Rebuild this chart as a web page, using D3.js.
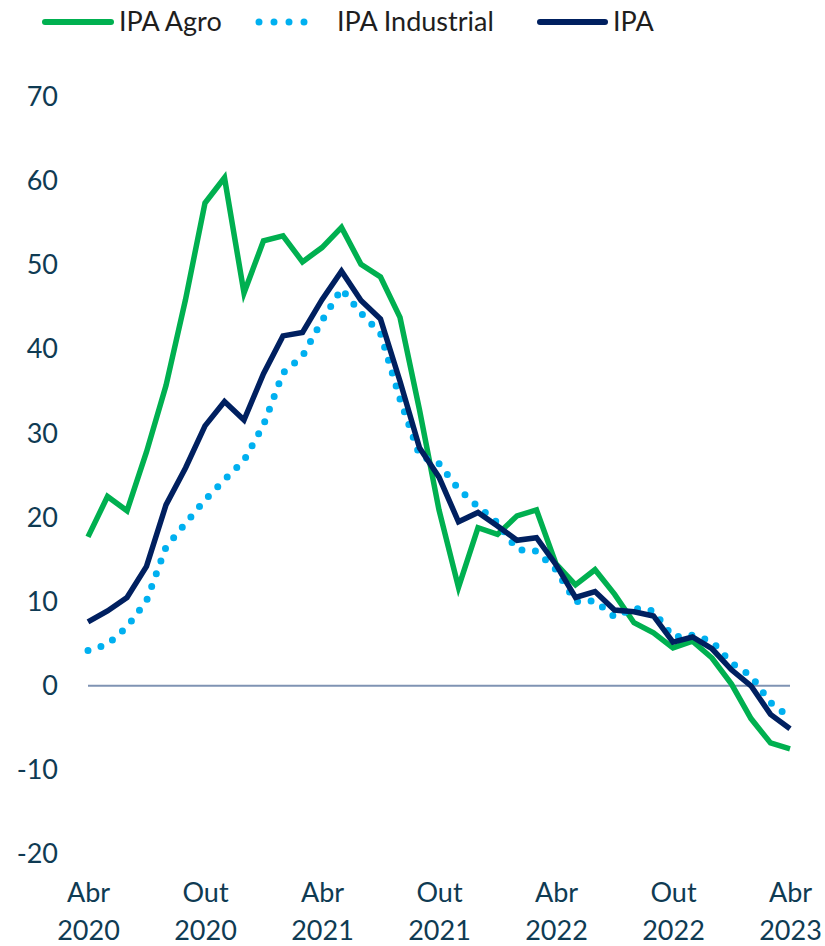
<!DOCTYPE html>
<html lang="pt">
<head>
<meta charset="UTF-8">
<title>IPA</title>
<script src="https://d3js.org/d3.v7.min.js"></script>
<style>
  body { margin: 0; background: #fff; }
  text { font-family: Lato, "Open Sans", sans-serif; }
</style>
</head>
<body>
<div id="chart"></div>
<script>
// months Abr 2020 .. Abr 2023
var months = ["2020-04","2020-05","2020-06","2020-07","2020-08","2020-09","2020-10","2020-11","2020-12",
  "2021-01","2021-02","2021-03","2021-04","2021-05","2021-06","2021-07","2021-08","2021-09","2021-10","2021-11","2021-12",
  "2022-01","2022-02","2022-03","2022-04","2022-05","2022-06","2022-07","2022-08","2022-09","2022-10","2022-11","2022-12",
  "2023-01","2023-02","2023-03","2023-04"];

var agro = [17.7, 22.5, 20.8, 27.8, 35.7, 45.9, 57.4, 60.4, 46.7, 52.9, 53.5, 50.4, 52.1, 54.5, 50.1, 48.6, 43.8, 32.8, 20.9,
  11.7, 18.8, 18.0, 20.2, 20.9, 14.5, 12.0, 13.8, 10.9, 7.5, 6.3, 4.5, 5.3, 3.3, 0.2, -3.9, -6.8, -7.5];
var industrial = [4.2, 4.9, 7.0, 10.1, 16.5, 19.3, 22.1, 24.5, 26.8, 31.0, 37.2, 39.2, 43.4, 47.2, 44.3, 41.9, 34.1, 27.4, 26.4,
  23.4, 21.3, 19.4, 16.2, 16.0, 13.8, 10.0, 10.1, 8.2, 9.2, 8.9, 5.8, 6.0, 5.3, 2.7, 1.2, -2.0, -3.8];
var ipa = [7.6, 8.9, 10.5, 14.2, 21.5, 25.9, 30.9, 33.8, 31.6, 37.1, 41.6, 42.0, 45.9, 49.3, 45.8, 43.6, 36.2, 28.3, 24.8,
  19.5, 20.6, 19.0, 17.3, 17.6, 14.4, 10.5, 11.2, 9.0, 8.8, 8.3, 5.2, 5.8, 4.4, 1.9, 0.0, -3.4, -5.1];

var xTicks = ["2020-04","2020-10","2021-04","2021-10","2022-04","2022-10","2023-04"];
var xTickLabels = [["Abr","2020"],["Out","2020"],["Abr","2021"],["Out","2021"],["Abr","2022"],["Out","2022"],["Abr","2023"]];
var yTicks = [-20, -10, 0, 10, 20, 30, 40, 50, 60, 70];

var series = [
  {name: "IPA Agro", values: agro, color: "#00B050", dotted: false},
  {name: "IPA Industrial", values: industrial, color: "#00B0F0", dotted: true},
  {name: "IPA", values: ipa, color: "#002060", dotted: false}
];

var width = 825, height = 946;

var svg = d3.select("#chart").append("svg")
  .attr("width", width)
  .attr("height", height);

var x = d3.scalePoint()
  .domain(months)
  .range([88, 790]);

var y = d3.scaleLinear()
  .domain([-20, 70])
  .range([854, 97]);

// y axis labels (no line, no ticks)
var yAxis = svg.append("g")
  .attr("transform", "translate(62,0)")
  .call(d3.axisLeft(y).tickValues(yTicks).tickSize(0).tickPadding(4)
    .tickFormat(function(d) { return String(d); }));
yAxis.select(".domain").remove();
yAxis.selectAll("text")
  .style("font-family", "Lato, sans-serif")
  .style("font-size", "27px")
  .attr("fill", "#0F3B53");

// x axis labels, two lines each
var xAxis = svg.append("g")
  .attr("transform", "translate(0,902)")
  .call(d3.axisBottom(x).tickValues(xTicks).tickSize(0).tickFormat(""));
xAxis.select(".domain").remove();
xAxis.selectAll(".tick text").remove();
xAxis.selectAll(".tick").each(function(d, i) {
  var t = d3.select(this);
  t.append("text").attr("y", 0).text(xTickLabels[i][0]);
  t.append("text").attr("y", 38).text(xTickLabels[i][1]);
});
xAxis.selectAll(".tick text")
  .attr("text-anchor", "middle")
  .style("font-family", "Lato, sans-serif")
  .style("font-size", "27px")
  .attr("fill", "#0F3B53");

// zero line
svg.append("line")
  .attr("x1", x(months[0])).attr("x2", x(months[months.length - 1]))
  .attr("y1", y(0)).attr("y2", y(0))
  .attr("stroke", "#7F93B3")
  .attr("stroke-width", 2);

var line = d3.line()
  .x(function(d, i) { return x(months[i]); })
  .y(function(d) { return y(d); });

series.forEach(function(s) {
  var p = svg.append("path")
    .datum(s.values)
    .attr("fill", "none")
    .attr("stroke", s.color)
    .attr("d", line);
  if (s.dotted) {
    p.attr("stroke-width", 7)
     .attr("stroke-linecap", "round")
     .attr("stroke-dasharray", "0 13.5");
  } else {
    p.attr("stroke-width", 5.5)
     .attr("stroke-linejoin", "miter");
  }
});

// legend
var legendPos = [{x1: 45, x2: 111, tx: 119}, {x1: 259, x2: 319, tx: 337}, {x1: 540, x2: 605, tx: 613}];
var legend = svg.append("g");
series.forEach(function(s, i) {
  var lp = legendPos[i];
  var l = legend.append("line")
    .attr("x1", lp.x1).attr("x2", lp.x2)
    .attr("y1", 22).attr("y2", 22)
    .attr("stroke", s.color)
    .attr("stroke-linecap", "round");
  if (s.dotted) {
    l.attr("stroke-width", 7).attr("stroke-dasharray", "0 15");
  } else {
    l.attr("stroke-width", 6);
  }
  legend.append("text")
    .attr("x", lp.tx).attr("y", 31)
    .style("font-size", "27px")
    .attr("fill", "#1E1E1E")
    .text(s.name);
});
</script>
</body>
</html>
